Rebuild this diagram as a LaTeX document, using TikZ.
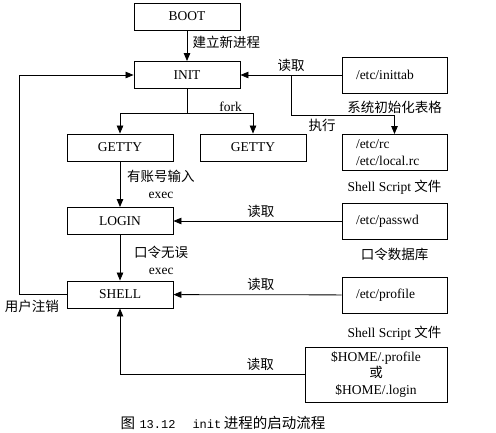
\documentclass[tikz,border=0pt]{standalone}
\usepackage{fontspec}
\setmainfont{Liberation Serif}
\newfontfamily\cjk{Noto Sans CJK SC}
\newfontfamily\capmono{Liberation Mono}
\usetikzlibrary{positioning,arrows.meta}
\newcommand{\zh}[1]{{\cjk #1}}

\begin{document}
\begin{tikzpicture}[x=1pt,y=-1pt,
  font=\fontsize{13.5}{16.5}\selectfont,
  >={Triangle[length=8pt,width=6.5pt]},
  node distance=4pt,
  procnode/.style={draw,line width=0.9pt,minimum width=106pt,minimum height=27pt,inner sep=0pt},
  filenode/.style={draw,line width=0.9pt,text width=77pt,inner xsep=14pt,inner ysep=0pt,minimum height=36pt,align=left},
  conn/.style={->,line width=0.8pt}]
\useasboundingbox (0,0) rectangle (496,432);

\node[procnode] (boot) at (187,16.5) {BOOT};
\node[procnode] (init) at (187,75) {INIT};
\node[procnode] (g1) at (120,147.5) {GETTY};
\node[procnode] (g2) at (253,147.5) {GETTY};
\node[procnode] (login) at (120,221) {LOGIN};
\node[procnode] (shell) at (120,294.5) {SHELL};

\node[filenode] (tab) at (394.5,75) {/etc/inittab};
\node[filenode] (rc) at (394.5,152.5) {/etc/rc\\/etc/local.rc};
\node[filenode] (pw) at (394.5,221) {/etc/passwd};
\node[filenode] (prof) at (394.5,295) {/etc/profile};
\node[draw,line width=0.9pt,minimum width=142pt,minimum height=55pt,align=center,inner sep=0pt] (home) at (376,374.5) {\$HOME/.profile\\\zh{或}\\\$HOME/.login};

\node[below=4pt of tab] (tabd) {\zh{系统初始化表格}};
\node[below=6pt of rc] (rcd) {Shell Script \zh{文件}};
\node[below=5pt of pw] (pwd) {\zh{口令数据库}};
\node[below=9pt of prof] (profd) {Shell Script \zh{文件}};

\coordinate (fk) at (187,113);
\coordinate (br) at (291,75);
\coordinate (lo) at (19,294.5);

\draw[conn] (boot) -- node[right,pos=0.4,xshift=2pt] {\zh{建立新进程}} (init);
\draw[conn] (init) -- (fk) -| (g1);
\draw[conn] (fk) -| node[pos=0.33,above,inner sep=1pt] {fork} (g2);
\draw[conn] (tab) -- node[above] {\zh{读取}} (init);
\draw[conn] (br) -- (291,115) -| node[pos=0.15,below] {\zh{执行}} (rc);
\draw[conn] (g1) -- node[right,align=center,xshift=3.5pt] {\zh{有账号输入}\\exec} (login);
\draw[conn] (login) -- node[right,align=center,xshift=10.5pt,yshift=-2.5pt] {\zh{口令无误}\\exec} (shell);
\draw[conn] (pw) -- node[above,pos=0.48] {\zh{读取}} (login);
\draw[conn] (prof) -- node[above,pos=0.48] {\zh{读取}} (shell);
\draw[conn] (home) -| node[above,pos=0.12] {\zh{读取}} (shell);
\draw[conn] (shell.west) -- node[below,pos=0.73,yshift=-2pt] {\zh{用户注销}} (lo) |- (init.west);

\node[anchor=west,font=\fontsize{14.5}{16}\selectfont] (cap) at (117,422.5) {\zh{图}\hspace{4.5pt}{\capmono\fontsize{12}{14}\selectfont 13.12}\hspace{17pt}{\capmono\fontsize{12}{14}\selectfont init}\hspace{2.5pt}\zh{进程的启动流程}};
\end{tikzpicture}
\end{document}
